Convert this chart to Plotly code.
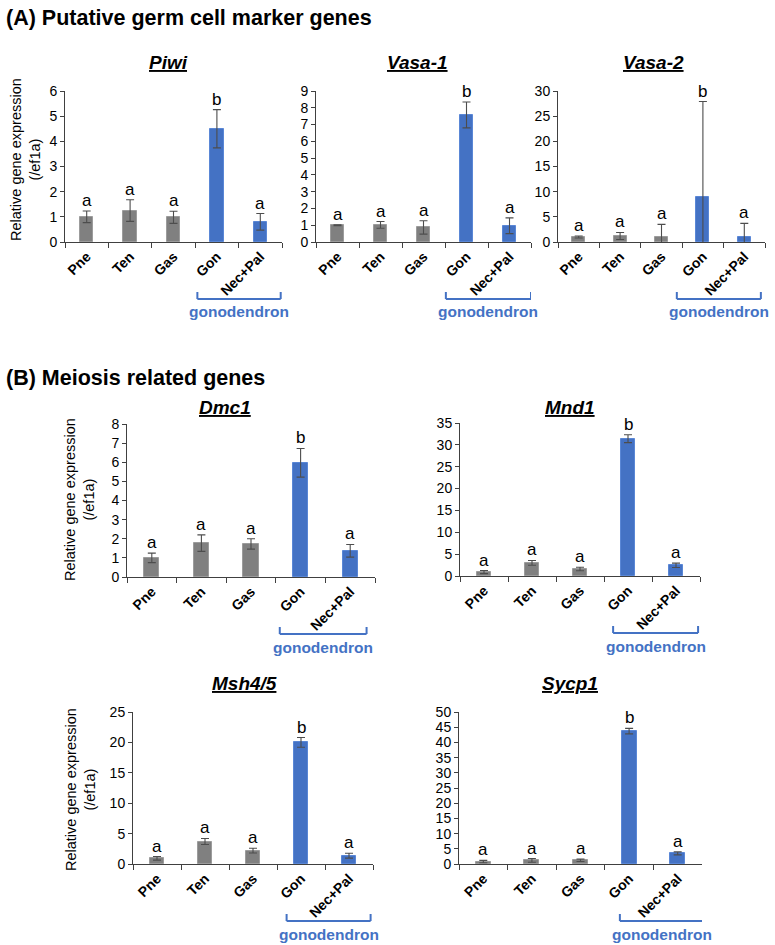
import plotly.graph_objects as go

W, H = 775, 945

categories = ["Pne", "Ten", "Gas", "Gon", "Nec+Pal"]
letters = ["a", "a", "a", "b", "a"]

piwi_mean = [1.0, 1.25, 0.98, 4.5, 0.8]
piwi_err = [0.23, 0.43, 0.24, 0.76, 0.33]
vasa1_mean = [1.0, 1.02, 0.87, 7.57, 0.97]
vasa1_err = [0.03, 0.2, 0.4, 0.77, 0.47]
vasa2_mean = [1.0, 1.2, 0.9, 9.0, 0.9]
vasa2_err = [0.2, 0.7, 2.6, 18.9, 2.8]
dmc1_mean = [1.0, 1.77, 1.73, 5.97, 1.37]
dmc1_err = [0.25, 0.43, 0.27, 0.75, 0.33]
mnd1_mean = [0.9, 3.0, 1.6, 31.4, 2.45]
mnd1_err = [0.35, 0.55, 0.4, 0.9, 0.5]
msh45_mean = [0.93, 3.7, 2.2, 20.0, 1.37]
msh45_err = [0.3, 0.5, 0.4, 0.8, 0.4]
sycp1_mean = [0.8, 1.2, 1.2, 43.7, 3.5]
sycp1_err = [0.4, 0.6, 0.4, 0.9, 0.5]

GREY = "#808080"
BLUE = "#4472C4"
FONT = "Arial, Liberation Sans, sans-serif"

# layout per panel: name, data, pixel box (x0, x1, ytop, ybottom), y max, dtick, ytitle pos, bracket span
panels = [
    ("Piwi", piwi_mean, piwi_err, (65, 282, 91, 242), 6, 1, (25, 160), (2.55, 4.47)),
    ("Vasa-1", vasa1_mean, vasa1_err, (316, 531, 91, 242), 9, 1, None, (2.52, 4.5)),
    ("Vasa-2", vasa2_mean, vasa2_err, (558, 765, 91, 242), 30, 5, None, (2.37, 4.4)),
    ("Dmc1", dmc1_mean, dmc1_err, (127, 375, 424, 577), 8, 1, (79, 500), (2.58, 4.33)),
    ("Mnd1", mnd1_mean, mnd1_err, (460, 700, 423, 576), 35, 5, None, (2.69, 4.46)),
    ("Msh4/5", msh45_mean, msh45_err, (133, 373, 712, 864), 25, 5, (80, 790), (2.7, 4.45)),
    ("Sycp1", sycp1_mean, sycp1_err, (459, 702, 712, 864), 50, 5, None, (2.81, 4.54)),
]


def px_x(p):
    return p / W


def px_y(p):
    return 1 - p / H


fig = go.Figure()
annotations = []
shapes = []

for i, (name, mean, err, box, ymax, dtick, ytitle, br) in enumerate(panels, start=1):
    x0, x1, yt, yb = box
    xa = "x" if i == 1 else f"x{i}"
    ya = "y" if i == 1 else f"y{i}"
    colors = [GREY, GREY, GREY, BLUE, BLUE]
    lcolors = ["#9c9c9c", "#9c9c9c", "#9c9c9c", "#5a87d6", "#5a87d6"]
    fig.add_trace(go.Bar(
        x=categories, y=mean, xaxis=xa, yaxis=ya, width=0.31,
        marker=dict(color=colors, line=dict(color=lcolors, width=1)),
        error_y=dict(type="data", array=err, visible=True, color="#4d4d4d",
                     thickness=1.1, width=4),
        showlegend=False, hoverinfo="skip",
    ))
    axkey = "" if i == 1 else str(i)
    fig.layout["xaxis" + axkey] = dict(
        domain=[px_x(x0), px_x(x1)], anchor=ya, type="category",
        range=[-0.5, 4.5], showline=True, linecolor="#404040", linewidth=1,
        ticks="outside", tickson="boundaries", ticklen=5, tickcolor="#404040",
        tickvals=categories, ticktext=[f"<b>{c}</b>" for c in categories],
        tickangle=-45, tickfont=dict(family=FONT, size=14, color="#000"),
        showgrid=False, zeroline=False, fixedrange=True, automargin=False,
    )
    fig.layout["yaxis" + axkey] = dict(
        domain=[px_y(yb), px_y(yt)], anchor=xa, range=[0, ymax], dtick=dtick,
        showline=True, linecolor="#404040", linewidth=1, ticks="outside",
        ticklen=4, tickcolor="#404040", tickfont=dict(family=FONT, size=14, color="#000"),
        showgrid=False, zeroline=False, fixedrange=True, automargin=False,
    )
    # significance letters
    for c, m, e, L in zip(categories, mean, err, letters):
        annotations.append(dict(
            x=c, y=m + e, xref=xa, yref=ya, text=L, showarrow=False,
            yanchor="bottom", yshift=-1, font=dict(family=FONT, size=17, color="#000")))
    # gonodendron bracket
    bx0, bx1 = br
    ytop = px_y(yb + 50)
    ybot = px_y(yb + 57)
    bl = dict(color=BLUE, width=2)
    shapes.append(dict(type="line", xref=xa, yref="paper", x0=bx0, x1=bx0, y0=ytop, y1=ybot, line=bl))
    shapes.append(dict(type="line", xref=xa, yref="paper", x0=bx0, x1=bx1, y0=ybot, y1=ybot, line=bl))
    shapes.append(dict(type="line", xref=xa, yref="paper", x0=bx1, x1=bx1, y0=ybot, y1=ytop, line=bl))
    annotations.append(dict(
        x=(bx0 + bx1) / 2, y=px_y(yb + 70), xref=xa, yref="paper",
        text="<b>gonodendron</b>", showarrow=False, yanchor="middle",
        font=dict(family=FONT, size=15.5, color=BLUE)))
    # y title
    if ytitle:
        tx, ty = ytitle
        annotations.append(dict(
            x=px_x(tx), y=px_y(ty), xref="paper", yref="paper",
            text="Relative gene expression<br>(/ef1a)", textangle=-90,
            showarrow=False, xanchor="center", yanchor="middle",
            font=dict(family=FONT, size=14.5, color="#000")))

# subplot titles (positions in px)
titles = [("Piwi", 168, 63), ("Vasa-1", 417, 63), ("Vasa-2", 653, 63),
          ("Dmc1", 225, 407), ("Mnd1", 570, 407), ("Msh4/5", 244, 683), ("Sycp1", 570, 683)]
for t, tx, ty in titles:
    annotations.append(dict(
        x=px_x(tx), y=px_y(ty), xref="paper", yref="paper",
        text=f"<b><i><u>{t}</u></i></b>", showarrow=False,
        xanchor="center", yanchor="middle",
        font=dict(family=FONT, size=19, color="#000")))

annotations.append(dict(x=px_x(4), y=px_y(18), xref="paper", yref="paper",
                        text="<b>(A) Putative germ cell marker genes</b>", showarrow=False,
                        xanchor="left", yanchor="middle",
                        font=dict(family=FONT, size=21.5, color="#000")))
annotations.append(dict(x=px_x(4), y=px_y(378), xref="paper", yref="paper",
                        text="<b>(B) Meiosis related genes</b>", showarrow=False,
                        xanchor="left", yanchor="middle",
                        font=dict(family=FONT, size=21.5, color="#000")))

fig.update_layout(
    width=W, height=H, margin=dict(l=0, r=0, t=0, b=0, pad=0, autoexpand=False),
    paper_bgcolor="white", plot_bgcolor="white",
    annotations=annotations, shapes=shapes, bargap=0,
    font=dict(family=FONT),
)

fig.write_html(
    "out.html",
    config={"displayModeBar": False},
    post_script="document.body.style.margin='0';document.body.style.overflow='hidden';",
)
